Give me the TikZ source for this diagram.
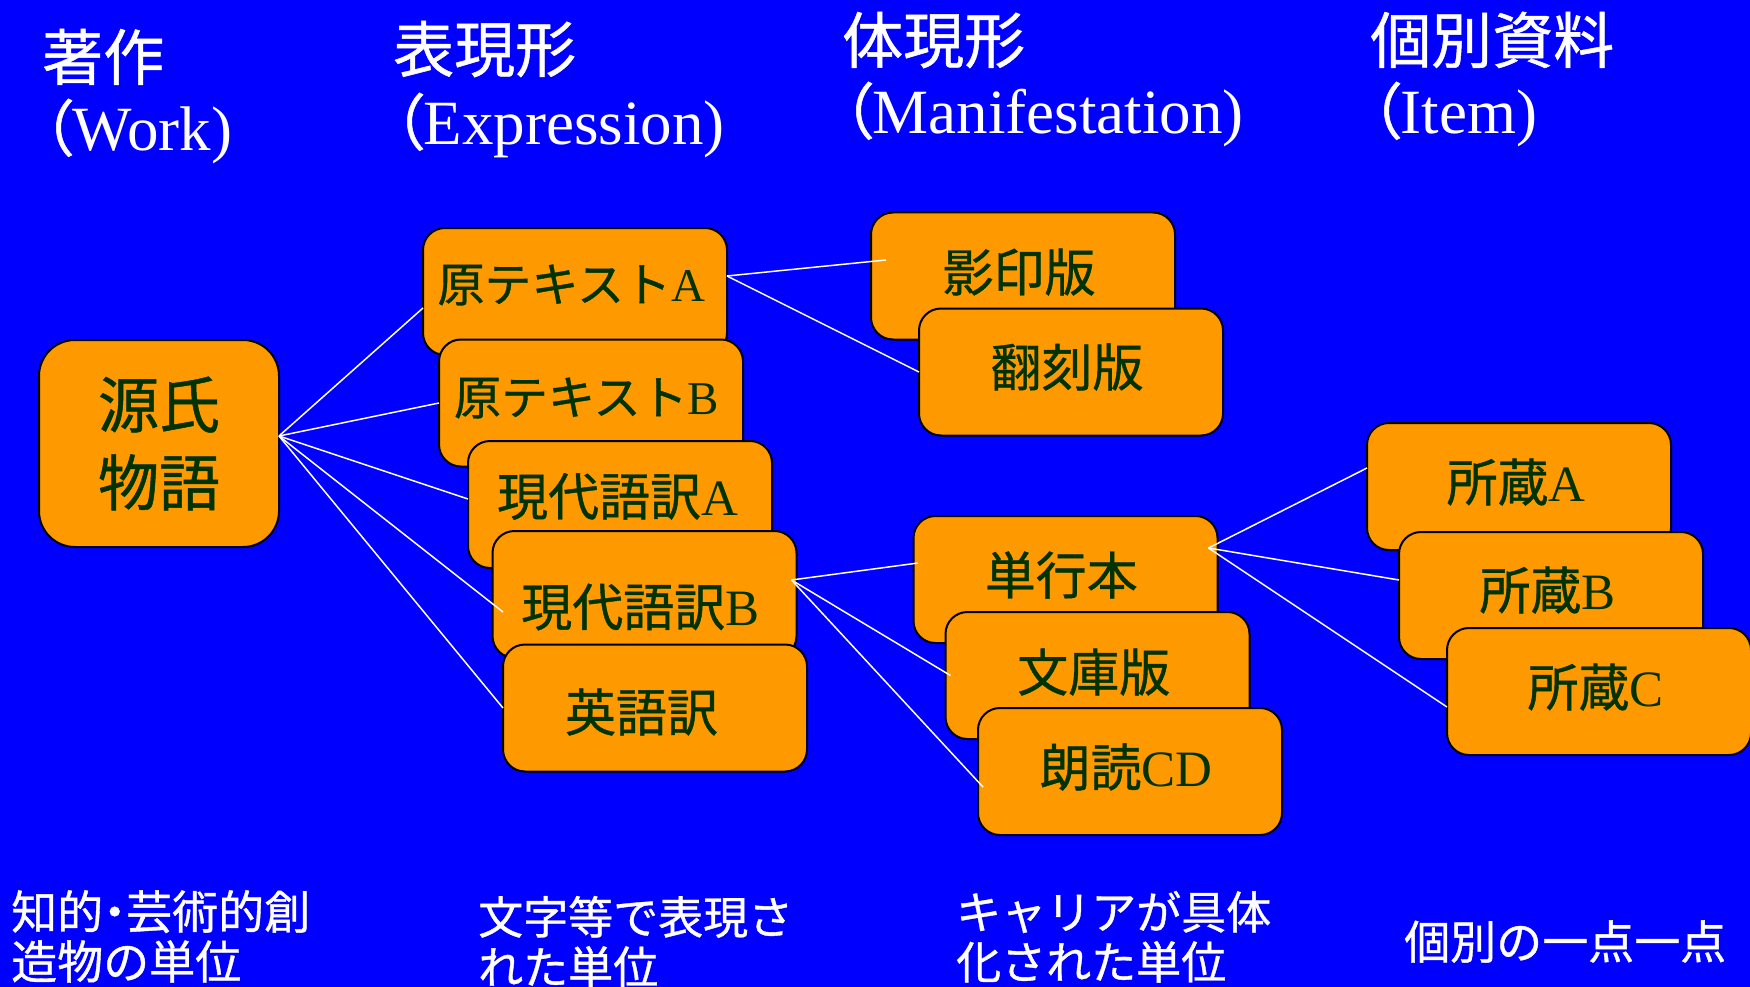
\documentclass[tikz,border=0pt]{standalone}
\usepackage{fontspec}
\setmainfont{Liberation Serif}
\newfontfamily\jp[FakeBold=0.8]{Noto Sans CJK JP}
\newfontfamily\jpp[FakeBold=0.8,RawFeature=+palt]{Noto Sans CJK JP}
\usetikzlibrary{calc}
\definecolor{bgblue}{HTML}{0000FF}
\definecolor{cardorange}{HTML}{FF9900}
\definecolor{cardtext}{HTML}{003300}
% #1 = shift left (pt), #2 = shift up (pt), #3 = text
\newcommand\bxt[3]{\raisebox{#2pt}[\height][\depth]{#3}\hspace{#1pt}\hspace{#1pt}}
\tikzset{
  card/.style={draw=black, line width=2pt, fill=cardorange, rounded corners=22pt,
    minimum width=304pt, minimum height=127pt, inner sep=0pt, outer sep=0pt,
    text=cardtext, font=\fontsize{51}{60}\selectfont},
  narrowcard/.style={card, font=\fontsize{47}{56}\selectfont},
  bigcard/.style={card, rounded corners=36pt, minimum width=240pt, minimum height=207pt,
    align=center, font=\jp\fontsize{61}{78}\selectfont},
  ttl/.style={text=white, anchor=base west, inner sep=0pt, font=\jp\fontsize{61}{70}\selectfont},
  ttllat/.style={ttl, font=\rmfamily\fontsize{63}{70}\selectfont},
  btext/.style={text=white, anchor=base west, inner sep=0pt, font=\jp\fontsize{45}{50}\selectfont},
  conn/.style={draw=white, line width=1.5pt}
}
\begin{document}
\begin{tikzpicture}[x=1pt,y=-1pt]
\useasboundingbox (0,0) rectangle (1750,987);
\fill[bgblue] (0,0) rectangle (1750,987);

% column titles
\node[ttl] (t1a) at (42,80) {著作};
\node[ttllat] (t1b) at (42,151) {{\jpp\fontsize{61}{70}\selectfont （}Work)};
\node[ttl] (t2a) at (393,72) {表現形};
\node[ttllat] (t2b) at (393,145) {{\jpp\fontsize{61}{70}\selectfont （}Expression)};
\node[ttl] (t3a) at (842,63) {体現形};
\node[ttllat] (t3b) at (842,134) {{\jpp\fontsize{61}{70}\selectfont （}Manifestation)};
\node[ttl] (t4a) at (1370,63) {個別資料};
\node[ttllat] (t4b) at (1370,134) {{\jpp\fontsize{61}{70}\selectfont （}Item)};

% work
\node[bigcard] (genji) at (159,443.5) {源氏\\物語};

% expressions
\node[narrowcard] (oA) at (575,291.5) {\bxt{7.5}{6.5}{{\jp 原テキスト}A}};
\node[narrowcard] (oB) at (591,403) {\bxt{9}{5}{{\jp 原テキスト}B}};
\node[card] (mA) at (620,504.5) {\bxt{5}{8}{{\jp 現代語訳}A}};
\node[card] (mB) at (644.5,594.5) {\bxt{8.5}{-12.5}{{\jp 現代語訳}B}};
\node[card] (en) at (655,708) {\bxt{27}{-4}{{\jp 英語訳}}};

% manifestations
\node[card] (ei) at (1023,276) {\bxt{8}{4}{{\jp 影印版}}};
\node[card] (ho) at (1071,372) {\bxt{8}{5}{{\jp 翻刻版}}};
\node[card] (tan) at (1065.5,579.5) {\bxt{8.5}{4.5}{{\jp 単行本}}};
\node[card] (bun) at (1097.5,675.5) {\bxt{7.5}{3.5}{{\jp 文庫版}}};
\node[card] (cd) at (1130,771.5) {\bxt{8}{4.5}{{\jp 朗読}CD}};

% items
\node[card] (sA) at (1519,486.5) {\bxt{6}{4.5}{{\jp 所蔵}A}};
\node[card] (sB) at (1551,595.5) {\bxt{7}{5.5}{{\jp 所蔵}B}};
\node[card] (sC) at (1599,691.5) {\bxt{7}{4.5}{{\jp 所蔵}C}};

% hubs
\coordinate (hG) at ([yshift=7.5pt]genji.east);
\coordinate (hO) at ([yshift=15.5pt]oA.east);
\coordinate (hM) at ([xshift=-5pt,yshift=14.5pt]mB.east);
\coordinate (hT) at ([xshift=-9pt,yshift=31.5pt]tan.east);

% connectors
\draw[conn] (hG) -- ([yshift=-16.5pt]oA.west);
\draw[conn] (hG) -- (oB.west);
\draw[conn] (hG) -- ([yshift=5.5pt]mA.west);
\draw[conn] (hG) -- ([xshift=10.5pt,yshift=-17.5pt]mB.west);
\draw[conn] (hG) -- (en.west);
\draw[conn] (hO) -- ([xshift=15pt,yshift=16pt]ei.west);
\draw[conn] (hO) -- (ho.west);
\draw[conn] (hM) -- ([xshift=4.5pt,yshift=16.5pt]tan.west);
\draw[conn] (hM) -- ([xshift=5pt]bun.west);
\draw[conn] (hM) -- ([xshift=5pt,yshift=-15.5pt]cd.west);
\draw[conn] (hT) -- ([yshift=18.5pt]sA.west);
\draw[conn] (hT) -- ([yshift=15.5pt]sB.west);
\draw[conn] (hT) -- ([yshift=-15.5pt]sC.west);

% bottom descriptions
\node[btext] (b1a) at (11,929) {\fontsize{46}{50}\selectfont 知的{\jpp ・}芸術的創};
\node[btext] (b1b) at (11,979) {\fontsize{46}{50}\selectfont 造物の単位};
\node[btext] (b2a) at (478,934) {文字等で表現さ};
\node[btext] (b2b) at (478,984) {れた単位};
\node[btext] (b3a) at (956,929) {キャリアが具体};
\node[btext] (b3b) at (956,979) {化された単位};
\node[btext] (b4) at (1404,959) {\fontsize{46}{50}\selectfont 個別の一点一点};
\end{tikzpicture}
\end{document}
